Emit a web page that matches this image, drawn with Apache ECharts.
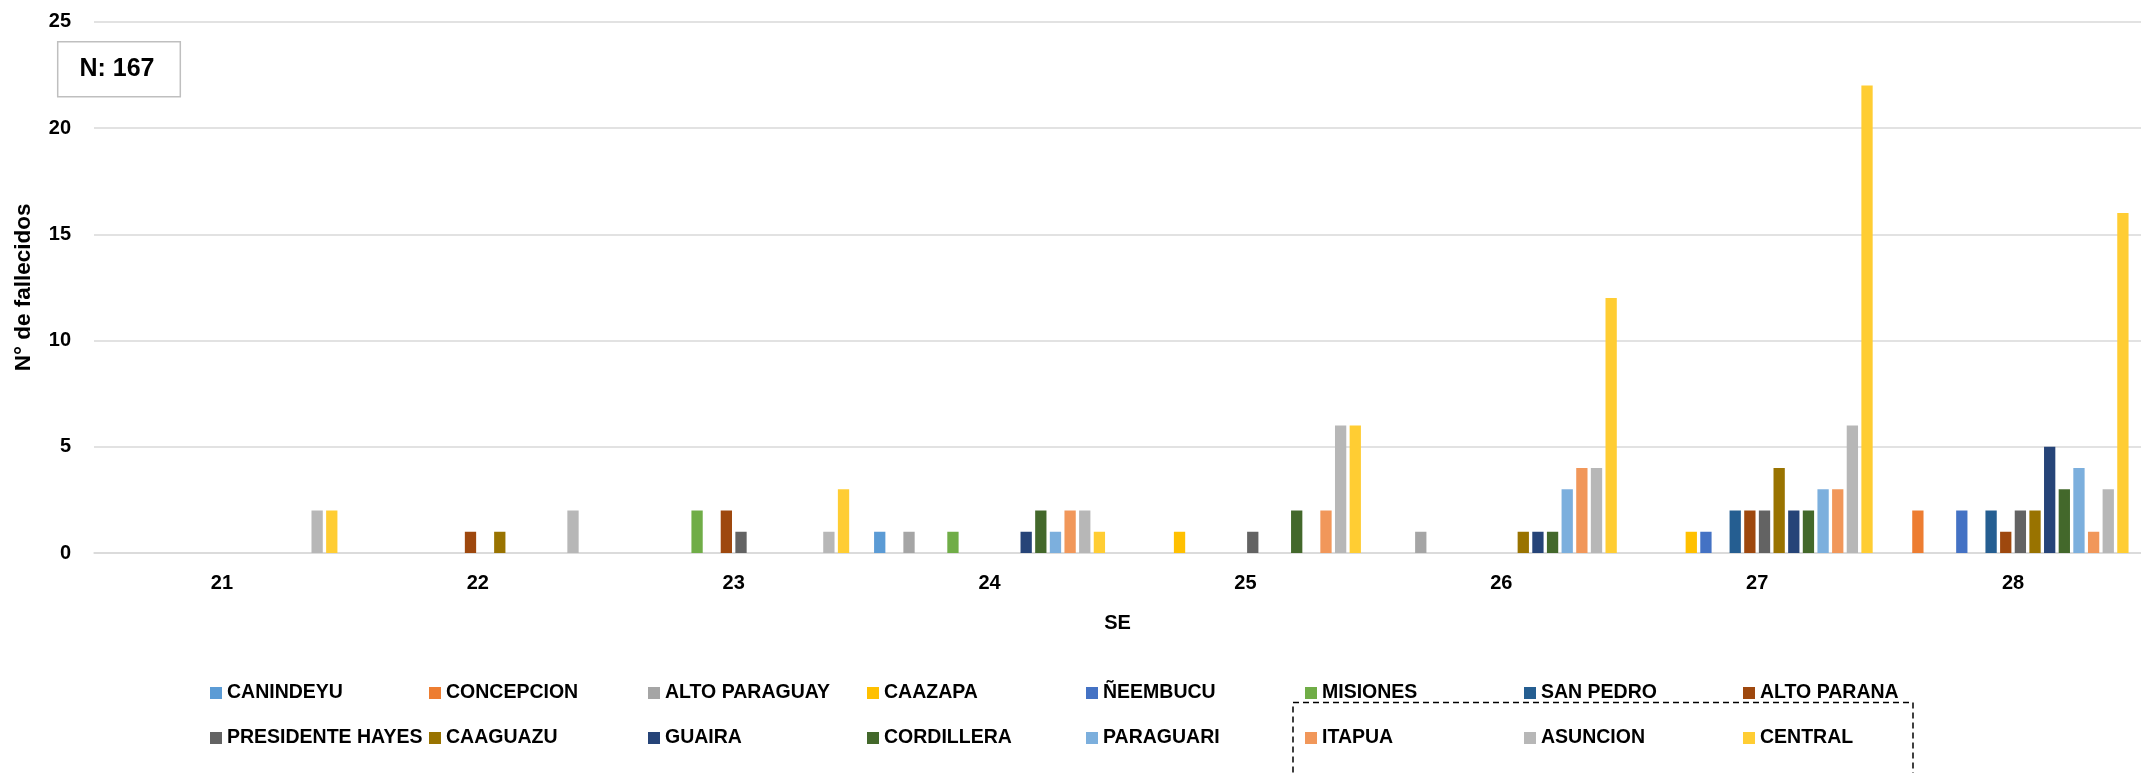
<!DOCTYPE html>
<html>
<head>
<meta charset="utf-8">
<script src="https://cdn.jsdelivr.net/npm/echarts@6/dist/echarts.min.js"></script>
<style>
html,body{margin:0;padding:0;background:#fff;}
#chart{width:2141px;height:773px;}
</style>
</head>
<body>
<div id="chart"></div>
<script>
const categories = ['21','22','23','24','25','26','27','28'];
const seriesNames = ['CANINDEYU','CONCEPCION','ALTO PARAGUAY','CAAZAPA','ÑEEMBUCU','MISIONES','SAN PEDRO','ALTO PARANA',
  'PRESIDENTE HAYES','CAAGUAZU','GUAIRA','CORDILLERA','PARAGUARI','ITAPUA','ASUNCION','CENTRAL'];
const colors = ['#5B9BD5','#ED7D31','#A5A5A5','#FFC000','#4472C4','#70AD47','#255E91','#9E480E',
  '#636363','#997300','#264478','#43682B','#7CAFDD','#F1975A','#B7B7B7','#FFCD33'];

const canindeyu      = [0,0,0,1,0,0,0,0];
const concepcion     = [0,0,0,0,0,0,0,2];
const altoParaguay   = [0,0,0,1,0,1,0,0];
const caazapa        = [0,0,0,0,1,0,1,0];
const neembucu       = [0,0,0,0,0,0,1,2];
const misiones       = [0,0,2,1,0,0,0,0];
const sanPedro       = [0,0,0,0,0,0,2,2];
const altoParana     = [0,1,2,0,0,0,2,1];
const presHayes      = [0,0,1,0,1,0,2,2];
const caaguazu       = [0,1,0,0,0,1,4,2];
const guaira         = [0,0,0,1,0,1,2,5];
const cordillera     = [0,0,0,2,2,1,2,3];
const paraguari      = [0,0,0,1,0,3,3,4];
const itapua         = [0,0,0,2,2,4,3,1];
const asuncion       = [2,2,1,2,6,4,6,3];
const central        = [2,0,3,1,6,12,22,16];

const values = [canindeyu, concepcion, altoParaguay, caazapa, neembucu, misiones, sanPedro, altoParana,
  presHayes, caaguazu, guaira, cordillera, paraguari, itapua, asuncion, central];

const yTicks = {min:0, max:25, interval:5};
const totalLabel = 'N: 167';

const FONT = '"Liberation Sans", Arial, sans-serif';

const chart = echarts.init(document.getElementById('chart'), null, {renderer:'canvas'});

const series = seriesNames.map((n,i)=>({
  name:n, type:'bar', data:values[i],
  barWidth:11.3, barGap:'29.6%',
  itemStyle:{color:colors[i]},
  emphasis:{disabled:true}
}));

// one legend per item so the columns line up like the original
const legends = seriesNames.map((n,i)=>({
  orient:'horizontal', padding:0, itemGap:0,
  left:210 + (i % 8) * 219,
  top: i < 8 ? 683 : 728,
  itemWidth:12, itemHeight:12, icon:'rect',
  textStyle:{fontFamily:FONT, fontWeight:'bold', fontSize:19.5, color:'#000'},
  selectedMode:false,
  data:[n]
}));

chart.setOption({
  animation:false,
  backgroundColor:'#fff',
  color:colors,
  grid:{left:94, top:21.8, width:2057.6, height:531.2, containLabel:false},
  xAxis:{
    type:'category', data:categories,
    name:'SE', nameLocation:'middle', nameGap:60,
    nameTextStyle:{fontFamily:FONT, fontWeight:'bold', fontSize:20, color:'#000'},
    axisLine:{lineStyle:{color:'#D9D9D9', width:1.5}},
    axisTick:{show:false},
    axisLabel:{fontFamily:FONT, fontWeight:'bold', fontSize:20, color:'#000', margin:20}
  },
  yAxis:{
    type:'value', min:yTicks.min, max:yTicks.max, interval:yTicks.interval,
    name:'N° de fallecidos', nameLocation:'middle', nameGap:59,
    nameTextStyle:{fontFamily:FONT, fontWeight:'bold', fontSize:22.5, color:'#000'},
    axisLine:{show:false}, axisTick:{show:false},
    splitLine:{lineStyle:{color:'#D9D9D9', width:1.5}},
    axisLabel:{fontFamily:FONT, fontWeight:'bold', fontSize:20, color:'#000', margin:23}
  },
  legend:legends,
  graphic:[
    {type:'rect', shape:{x:57.7, y:41.7, width:122.6, height:55},
     style:{fill:'#fff', stroke:'#BFBFBF', lineWidth:1.5}, z:10, silent:true},
    {type:'text', x:117, y:69.5, z:11, silent:true,
     style:{text:totalLabel, font:'bold 25px "Liberation Sans", Arial, sans-serif', fill:'#000', align:'center', verticalAlign:'middle'}},
    {type:'rect', shape:{x:1293, y:702.5, width:620, height:120},
     style:{fill:'none', stroke:'#000', lineWidth:1.5, lineDash:[6,4]}, z:5, silent:true}
  ],
  series:series
});
</script>
</body>
</html>
